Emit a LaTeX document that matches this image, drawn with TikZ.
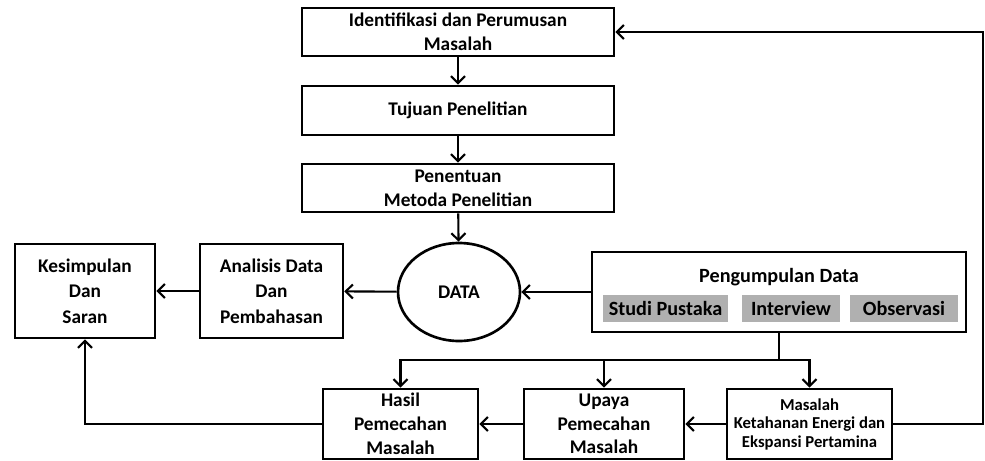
\documentclass[tikz,border=0pt]{standalone}
\usepackage{fontspec}
\setmainfont{Carlito}
\usepackage{tikz}
\usetikzlibrary{arrows.meta,shapes.geometric}
\definecolor{tagfill}{HTML}{B0B0B0}
\tikzset{
  stepbox/.style={draw,line width=1.5pt,align=center,inner sep=2pt,font=\bfseries\fontsize{11}{13.5}\selectfont},
  oval/.style={ellipse,draw,line width=1.5pt,minimum width=2.44cm,minimum height=1.96cm,font=\bfseries\fontsize{11}{13}\selectfont},
  tag/.style={fill=tagfill,minimum height=0.54cm,inner sep=1pt,font=\bfseries\fontsize{11.5}{12}\selectfont},
  flow/.style={line width=1.2pt,-{Straight Barb[length=4pt,width=8pt,line width=1.2pt]}}
}

\begin{document}
\begin{tikzpicture}
\useasboundingbox (0,0) rectangle (19.7,9.2);
% main column
\node[stepbox,minimum width=6.24cm,minimum height=0.96cm] (idf) at (9.16,8.56) {Identifikasi dan Perumusan\\Masalah};
\node[stepbox,minimum width=6.24cm,minimum height=0.98cm] (tuj) at (9.16,6.99) {Tujuan Penelitian};
\node[stepbox,minimum width=6.24cm,minimum height=0.96cm] (met) at (9.16,5.44) {Penentuan\\Metoda Penelitian};
\node[oval] (data) at (9.18,3.36) {DATA};
% left side
\node[stepbox,minimum width=2.8cm,minimum height=1.88cm,font=\bfseries\fontsize{11}{14.5}\selectfont] (kes) at (1.70,3.38) {Kesimpulan\\Dan\\Saran};
\node[stepbox,minimum width=2.86cm,minimum height=1.88cm,font=\bfseries\fontsize{11}{14.5}\selectfont] (ana) at (5.43,3.38) {Analisis Data\\Dan\\Pembahasan};
% data collection
\node[stepbox,minimum width=7.48cm,minimum height=1.6cm] (kumpul) at (15.58,3.36) {};
\node[font=\bfseries\fontsize{11.5}{12}\selectfont] (kumpulT) at (15.58,3.66) {Pengumpulan Data};
\node[tag,minimum width=2.5cm] (studi) at (13.31,3.04) {Studi Pustaka};
\node[tag,minimum width=1.96cm] (intv) at (15.82,3.04) {Interview};
\node[tag,minimum width=2.16cm] (obs) at (18.08,3.04) {Observasi};
% bottom row
\node[stepbox,minimum width=3.1cm,minimum height=1.4cm] (hasil) at (8.01,0.72) {Hasil\\Pemecahan\\Masalah};
\node[stepbox,minimum width=3.2cm,minimum height=1.4cm] (upaya) at (12.08,0.72) {Upaya\\Pemecahan\\Masalah};
\node[stepbox,minimum width=3.3cm,minimum height=1.4cm,font=\bfseries\fontsize{9.5}{10.5}\selectfont] (mas) at (16.19,0.72) {Masalah\\Ketahanan Energi dan\\Ekspansi Pertamina};
\coordinate (jn) at (15.58,2.0); \coordinate (rgt) at (19.66,0.72);
% arrows
\draw[flow] (idf) -- (tuj); \draw[flow] (tuj) -- (met); \draw[flow] (met) -- (data);
\draw[flow] (kumpul) -- (data); \draw[flow] (data) -- (ana); \draw[flow] (ana) -- (kes);
\draw[flow] (kumpul.south) -- (jn) -| (hasil.north);
\draw[flow] (jn) -| (upaya.north); \draw[flow] (jn) -| (mas.north);
\draw[flow] (mas) -- (upaya); \draw[flow] (upaya) -- (hasil);
\draw[flow] (hasil.west) -| (kes.south);
\draw[flow] (mas.east) -- (rgt) |- (idf.east);
\end{tikzpicture}
\end{document}
